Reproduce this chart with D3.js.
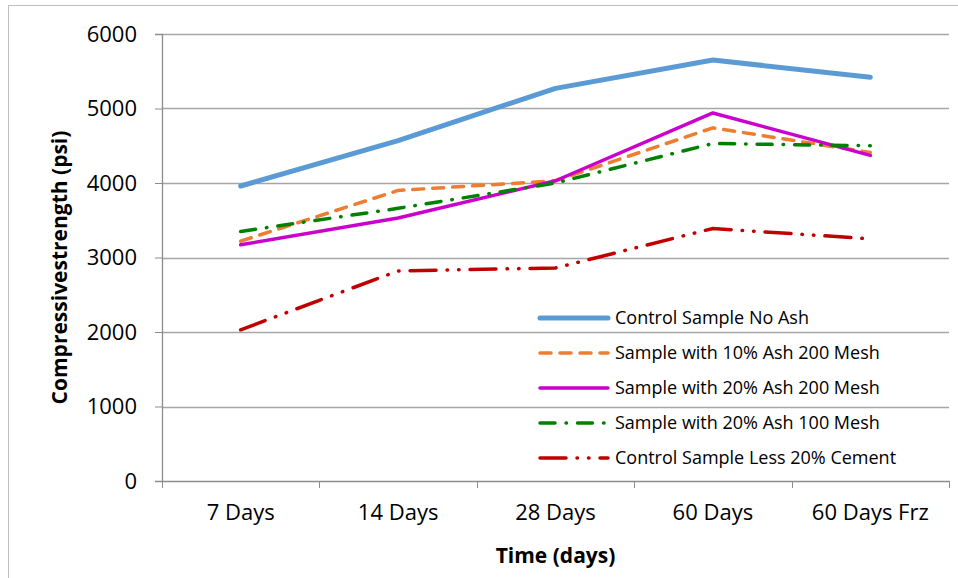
<!DOCTYPE html>
<html>
<head>
<meta charset="utf-8">
<script src="https://cdn.jsdelivr.net/npm/d3@7"></script>
<style>
  body { margin: 0; background: #fff; }
  text { font-family: "Open Sans", "Noto Sans", sans-serif; fill: #000; }
</style>
</head>
<body>
<script>
// data
var categories = ["7 Days", "14 Days", "28 Days", "60 Days", "60 Days Frz"];
var yTicks = [0, 1000, 2000, 3000, 4000, 5000, 6000];
var seriesNames = [
  "Control Sample No Ash",
  "Sample with 10% Ash 200 Mesh",
  "Sample with 20% Ash 200 Mesh",
  "Sample with 20% Ash 100 Mesh",
  "Control Sample Less 20% Cement"
];
var controlNoAsh = [3960, 4570, 5270, 5650, 5420];
var ash10Mesh200 = [3220, 3900, 4030, 4740, 4410];
var ash20Mesh200 = [3170, 3530, 4030, 4940, 4370];
var ash20Mesh100 = [3350, 3660, 4000, 4530, 4500];
var controlLess20 = [2030, 2820, 2860, 3390, 3250];
var seriesValues = [controlNoAsh, ash10Mesh200, ash20Mesh200, ash20Mesh100, controlLess20];

// styles
var colors = ["#5b9bd5", "#ed7d31", "#cc00cc", "#008000", "#c00000"];
var widths = [5, 3.5, 3.5, 3.5, 3.5];
var dashes = [null, "11,9", null, "15,11,0.5,11", "26,11,0.5,11,0.5,11"];

var W = 958, H = 578;
var margin = {top: 34, right: 9, bottom: 97, left: 162},
    width = W - margin.left - margin.right,
    height = H - margin.top - margin.bottom;

var svg = d3.select("body").append("svg")
    .attr("width", W)
    .attr("height", H);

// outer chart border
svg.append("rect")
    .attr("x", 8.5).attr("y", 5.5)
    .attr("width", W + 10).attr("height", H + 10)
    .attr("fill", "none")
    .attr("stroke", "#bfbfbf");

var g = svg.append("g")
    .attr("transform", "translate(" + margin.left + "," + margin.top + ")");

var xScale = d3.scaleBand().domain(categories).range([0, width]);
var yScale = d3.scaleLinear().domain([0, 6000]).range([height, 0]);

// gridlines
g.selectAll(".grid")
    .data(yTicks.filter(function(d) { return d > 0; }))
    .enter().append("line")
    .attr("class", "grid")
    .attr("x1", 0).attr("x2", width)
    .attr("y1", function(d) { return Math.round(yScale(d)) + 0.5; })
    .attr("y2", function(d) { return Math.round(yScale(d)) + 0.5; })
    .attr("stroke", "#a6a6a6")
    .attr("stroke-width", 1.3);

// y axis
var yAxis = g.append("g")
    .call(d3.axisLeft(yScale).tickValues(yTicks).tickFormat(d3.format("d"))
      .tickSize(7).tickPadding(18));
yAxis.select(".domain").attr("stroke", "#8c8c8c").attr("stroke-width", 1.3);
yAxis.selectAll(".tick line").attr("stroke", "#8c8c8c");
yAxis.selectAll("text")
    .style("font-size", "22px")
    .style("font-family", "'Open Sans', sans-serif");

// x axis
var xAxis = g.append("g")
    .attr("transform", "translate(0," + height + ")")
    .call(d3.axisBottom(xScale).tickSize(0).tickPadding(23));
xAxis.select(".domain").attr("stroke", "#8c8c8c").attr("stroke-width", 1.3);
xAxis.selectAll("text")
    .style("font-size", "22px")
    .style("font-family", "'Open Sans', sans-serif");

// x tick marks at category boundaries
g.selectAll(".xtick")
    .data(categories.concat([null]))
    .enter().append("line")
    .attr("class", "xtick")
    .attr("x1", function(d, i) { return Math.round(i * xScale.step()) + 0.5; })
    .attr("x2", function(d, i) { return Math.round(i * xScale.step()) + 0.5; })
    .attr("y1", height).attr("y2", height + 7)
    .attr("stroke", "#8c8c8c");

// axis titles
svg.append("text")
    .attr("x", margin.left + width / 2)
    .attr("y", 563)
    .attr("text-anchor", "middle")
    .style("font-size", "21px")
    .style("font-weight", "bold")
    .text("Time (days)");

svg.append("text")
    .attr("transform", "translate(67," + (margin.top + height / 2 + 10) + ") rotate(-90)")
    .attr("text-anchor", "middle")
    .style("font-size", "21px")
    .style("font-weight", "bold")
    .text("Compressivestrength (psi)");

// lines
var line = d3.line()
    .x(function(d, i) { return xScale(categories[i]) + xScale.bandwidth() / 2; })
    .y(function(d) { return yScale(d); });

g.selectAll(".series")
    .data(seriesValues)
    .enter().append("path")
    .attr("class", "series")
    .attr("d", line)
    .attr("fill", "none")
    .attr("stroke", function(d, i) { return colors[i]; })
    .attr("stroke-width", function(d, i) { return widths[i]; })
    .attr("stroke-dasharray", function(d, i) { return dashes[i]; })
    .attr("stroke-linecap", "round")
    .attr("stroke-linejoin", "round");

// legend
var legend = svg.append("g")
    .attr("transform", "translate(538,318)");

var item = legend.selectAll(".item")
    .data(seriesNames)
    .enter().append("g")
    .attr("class", "item")
    .attr("transform", function(d, i) { return "translate(0," + (i * 35) + ")"; });

item.append("line")
    .attr("x1", 2).attr("x2", 70)
    .attr("y1", 0).attr("y2", 0)
    .attr("stroke", function(d, i) { return colors[i]; })
    .attr("stroke-width", function(d, i) { return widths[i]; })
    .attr("stroke-dasharray", function(d, i) { return dashes[i]; })
    .attr("stroke-linecap", "round");

item.append("text")
    .attr("x", 77)
    .attr("y", 6)
    .style("font-size", "18px")
    .text(function(d) { return d; });
</script>
</body>
</html>
